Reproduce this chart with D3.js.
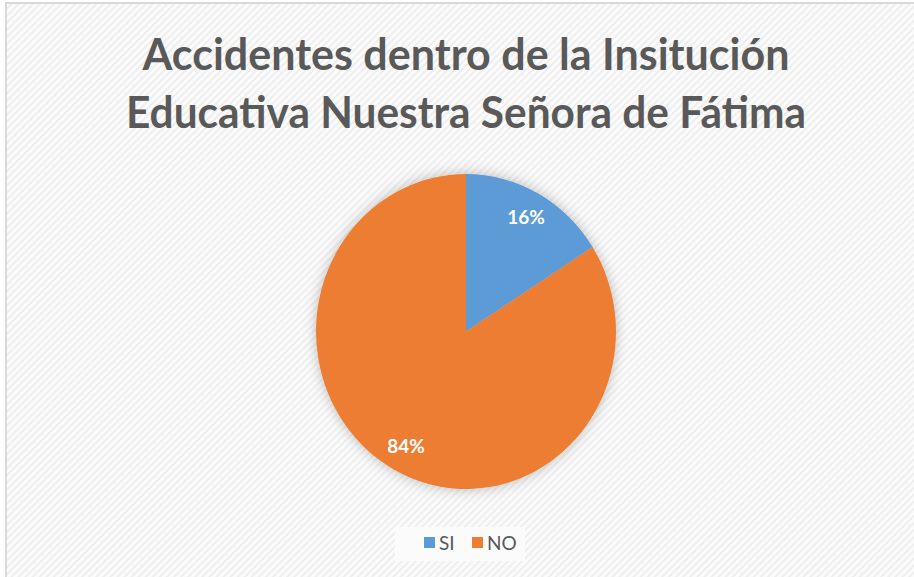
<!DOCTYPE html>
<html>
  <head>
    <meta charset="utf-8">
    <title>Accidentes</title>
    <style>
      body { margin: 0; background: #fff; }
    </style>
  </head>
  <body>
    <script src="https://d3js.org/d3.v7.min.js"></script>
    <svg id="chart" width="914" height="577"></svg>
    <script>
      const width = 914, height = 577

      const categories = ['SI', 'NO']
      const values = [16, 84]
      const titleLines = ['Accidentes dentro de la Insitución', 'Educativa Nuestra Señora de Fátima']
      const palette = ['#5b9bd5', '#ed7d31']

      const svg = d3.select('#chart')
      const defs = svg.append('defs')

      // striped background like the office chart area
      const pat = defs.append('pattern')
        .attr('id', 'stripes')
        .attr('patternUnits', 'userSpaceOnUse')
        .attr('width', 5).attr('height', 5)
        .attr('patternTransform', 'rotate(45)')
      pat.append('rect').attr('width', 5).attr('height', 5).attr('fill', '#fbfbfb')
      pat.append('rect').attr('width', 2).attr('height', 5).attr('fill', '#eeeeee')

      const glow = defs.append('filter')
        .attr('id', 'glow')
        .attr('x', '-20%').attr('y', '-20%').attr('width', '140%').attr('height', '140%')
      glow.append('feDropShadow')
        .attr('dx', 0).attr('dy', 0).attr('stdDeviation', 6)
        .attr('flood-color', '#000').attr('flood-opacity', 0.25)

      svg.append('rect')
        .attr('x', 6).attr('y', 3)
        .attr('width', width).attr('height', height)
        .attr('fill', 'url(#stripes)')
        .attr('stroke', '#d9d9d9').attr('stroke-width', 2)

      // title
      const title = svg.append('g')
        .attr('font-family', 'Lato, "Open Sans", sans-serif')
        .attr('font-weight', 'bold')
        .attr('font-size', 44)
        .attr('fill', '#595959')
        .attr('text-anchor', 'middle')
      const titleLens = [647, 680]
      title.selectAll('text')
        .data(titleLines)
        .join('text')
          .attr('x', 466)
          .attr('y', (d, i) => 70 + i * 58)
          .attr('textLength', (d, i) => titleLens[i])
          .attr('lengthAdjust', 'spacingAndGlyphs')
          .text(d => d)

      // pie
      const r = 150
      const color = d3.scaleOrdinal(categories, palette)
      const pie = d3.pie().sort(null).value(d => d.value)
      const arcs = pie(categories.map((c, i) => ({ name: c, value: values[i] })))
      const arc = d3.arc().innerRadius(0).outerRadius(r)
      const labelArc = d3.arc().innerRadius(r * 0.83).outerRadius(r * 0.83)
      const total = d3.sum(values)

      const g = svg.append('g')
        .attr('transform', `translate(466,331.5) scale(1,1.05)`)

      g.append('g')
        .attr('filter', 'url(#glow)')
        .selectAll('path')
        .data(arcs)
        .join('path')
          .attr('d', arc)
          .attr('fill', d => color(d.data.name))

      g.selectAll('text')
        .data(arcs)
        .join('text')
          .attr('transform', d => {
            const [x, y] = labelArc.centroid(d)
            return `translate(${x},${y}) scale(1,${1 / 1.05})`
          })
          .attr('text-anchor', 'middle')
          .attr('dy', '0.35em')
          .attr('fill', '#fff')
          .attr('font-family', 'Lato, sans-serif')
          .attr('font-weight', 'bold')
          .attr('font-size', 19)
          .text(d => Math.round(d.data.value / total * 100) + '%')

      // legend
      svg.append('rect')
        .attr('x', 395).attr('y', 527).attr('width', 130).attr('height', 34)
        .attr('fill', '#fbfbfb')

      const legendX = [424, 472]
      const legend = svg.append('g')
        .selectAll('g')
        .data(categories)
        .join('g')
          .attr('transform', (d, i) => `translate(${legendX[i]},537)`)
      legend.append('rect')
        .attr('width', 11).attr('height', 11)
        .attr('fill', d => color(d))
      legend.append('text')
        .attr('x', 15).attr('y', 13)
        .attr('font-family', 'Lato, sans-serif')
        .attr('font-size', 19)
        .attr('fill', '#595959')
        .text(d => d)
    </script>
  </body>
</html>
